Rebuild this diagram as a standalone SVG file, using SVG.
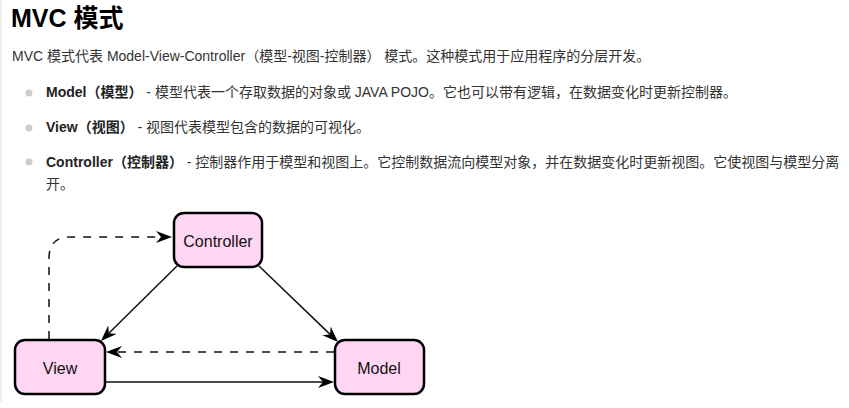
<svg xmlns="http://www.w3.org/2000/svg" width="849" height="408" viewBox="0 0 849 408">
<style>
  text { font-family: "Liberation Sans", "Noto Sans CJK SC", Arial, sans-serif; }
  .title { font-size: 25px; font-weight: bold; fill: #000; }
  .body { font-size: 14px; fill: #333; }
  .b { font-weight: bold; }
  .bullet { fill: #cccccc; }
  .node rect { fill: #ffd6f3; stroke: #000; stroke-width: 2.5; }
  .node text { font-size: 16px; fill: #111; text-anchor: middle; }
  .edge { fill: none; stroke: #111; stroke-width: 1.5; }
  .dash { stroke-dasharray: 8 8; }
</style>
<defs>
  <marker id="arrow" markerUnits="userSpaceOnUse" viewBox="-6 -7 18 14" refX="0" refY="0" markerWidth="18" markerHeight="14" orient="auto">
    <path d="M11,0 L-5,-6 L0,0 L-5,6 Z" fill="#000"/>
  </marker>
</defs>
<rect x="0" y="0" width="849" height="408" fill="#fff"/>
<rect x="0" y="0" width="2" height="402" fill="#f0f0f0"/>

<g id="header">
  <text class="title" x="11" y="27">MVC 模式</text>
  <text class="body" x="12" y="61">MVC 模式代表 Model-View-Controller（模型-视图-控制器） 模式。这种模式用于应用程序的分层开发。</text>
</g>
<g id="bullets">
  <circle class="bullet" cx="29" cy="93" r="3.5"/>
  <text class="body" x="46" y="97"><tspan class="b" fill="#222">Model（模型）</tspan> - 模型代表一个存取数据的对象或 JAVA POJO。它也可以带有逻辑，在数据变化时更新控制器。</text>
  <circle class="bullet" cx="29" cy="128" r="3.5"/>
  <text class="body" x="46" y="132"><tspan class="b" fill="#222">View（视图）</tspan> - 视图代表模型包含的数据的可视化。</text>
  <circle class="bullet" cx="29" cy="162" r="3.5"/>
  <text class="body" x="46" y="167"><tspan class="b" fill="#222">Controller（控制器）</tspan> - 控制器作用于模型和视图上。它控制数据流向模型对象，并在数据变化时更新视图。它使视图与模型分离</text>
  <text class="body" x="46" y="189">开。</text>
</g>

<g id="connectors">
  <path class="edge dash" d="M49,339 L49,258 Q49,237 70,237 L161,237" marker-end="url(#arrow)"/>
  <path class="edge" d="M177,266 L108.8,333.3" marker-end="url(#arrow)"/>
  <path class="edge" d="M259,266 L330.1,334.4" marker-end="url(#arrow)"/>
  <path class="edge dash" d="M334,352 L117,352" marker-end="url(#arrow)"/>
  <path class="edge" d="M106,382 L323,382" marker-end="url(#arrow)"/>
</g>

<g id="controller" class="node">
  <rect x="174" y="213" width="88" height="54" rx="10"/>
  <text x="218" y="247">Controller</text>
</g>
<g id="view" class="node">
  <rect x="15" y="340" width="90" height="54" rx="10"/>
  <text x="60" y="374">View</text>
</g>
<g id="model" class="node">
  <rect x="335" y="340" width="89" height="54" rx="10"/>
  <text x="379" y="374">Model</text>
</g>
</svg>
